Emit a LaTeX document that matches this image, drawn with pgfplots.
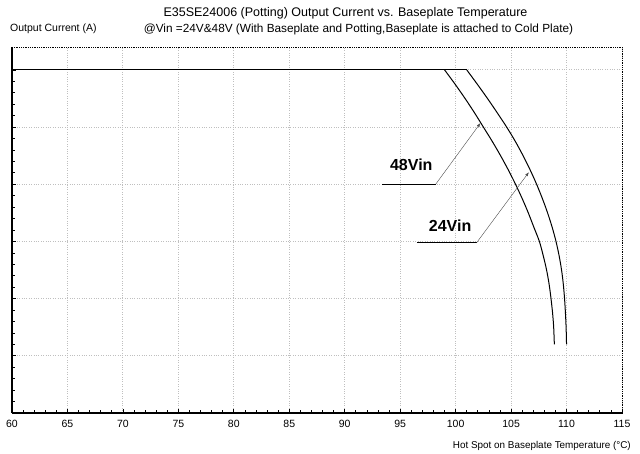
\documentclass[border=0pt]{standalone}
\usepackage{pgfplots}
\pgfplotsset{compat=1.18}
\usepackage{fontspec}
\setmainfont{Liberation Sans}
\usetikzlibrary{arrows.meta}
\begin{document}
\begin{tikzpicture}
\path[use as bounding box] (-12pt,-41pt) rectangle (628pt,413pt);
\begin{axis}[at={(0pt,0pt)}, anchor=south west, scale only axis,
  width=610pt, height=366pt,
  xmin=60, xmax=115, ymin=0, ymax=6.4,
  xtick={60,65,...,115}, ytick={0,1,...,6},
  minor x tick num=4, minor y tick num=4,
  yticklabels={},
  grid=major, major grid style={gray!50, dotted, line width=0.9pt},
  axis x line*=bottom, axis y line*=left,
  axis line style={line width=1.2pt, -},
  tick align=inside, major tick length=4pt, minor tick length=2.5pt,
  tick style={black, line width=0.7pt},
  xticklabel style={font=\fontsize{10.5}{12}\selectfont, yshift=-4pt},
  /pgf/number format/assume math mode=true,
  clip=false]
\draw[black, densely dotted, line width=0.8pt] (rel axis cs:0,1) -- (rel axis cs:1,1) -- (rel axis cs:1,0);
% 48 Vin
\addplot[black, line width=1pt] coordinates {(60,6) (99,6)};
\addplot[black, line width=1pt, smooth] coordinates {(99,6) (99.95,5.75) (100.85,5.5) (101.7,5.25) (102.5,5) (103.3,4.75) (104.05,4.5) (104.75,4.25) (105.4,4) (106.0,3.75) (106.55,3.5) (107.05,3.25) (107.55,3) (107.9,2.75) (108.2,2.5) (108.43,2.25) (108.6,2) (108.74,1.75) (108.84,1.5) (108.9,1.2)};
% 24 Vin
\addplot[black, line width=1pt] coordinates {(60,6) (101,6)};
\addplot[black, line width=1pt, smooth] coordinates {(101,6) (101.95,5.75) (102.87,5.5) (103.75,5.25) (104.6,5) (105.38,4.75) (106.08,4.5) (106.72,4.25) (107.3,4) (107.82,3.75) (108.29,3.5) (108.7,3.25) (109.05,3) (109.33,2.75) (109.55,2.5) (109.71,2.25) (109.82,2) (109.9,1.75) (109.96,1.5) (110,1.2)};
% annotations
\draw[line width=0.9pt] (axis cs:93.4,4) -- (axis cs:98.2,4);
\draw[gray!60!black, line width=0.4pt, -{Latex[length=4pt,width=3pt]}] (axis cs:98.2,4) -- (axis cs:102.24,5.07);
\node[font=\bfseries\fontsize{16}{18}\selectfont] at (axis cs:96.0,4.34) {48Vin};
\draw[line width=0.9pt] (axis cs:96.5,2.98) -- (axis cs:101.9,2.98);
\draw[gray!60!black, line width=0.4pt, -{Latex[length=4pt,width=3pt]}] (axis cs:101.9,2.98) -- (axis cs:106.6,4.21);
\node[font=\bfseries\fontsize{16}{18}\selectfont] at (axis cs:99.5,3.28) {24Vin};
\end{axis}
\node[font=\fontsize{12.5}{14}\selectfont] at (333.5pt,400pt) {E35SE24006 (Potting) Output Current vs. Baseplate Temperature};
\node[font=\fontsize{10.5}{12}\selectfont, anchor=west, inner sep=0pt] at (-2pt,384pt) {Output Current (A)};
\node[font=\fontsize{11.8}{13}\selectfont] at (346.5pt,384pt) {@Vin =24V\&48V (With Baseplate and Potting,Baseplate is attached to Cold Plate)};
\node[font=\fontsize{9.9}{11}\selectfont, anchor=east, inner sep=0pt] at (619pt,-33pt) {Hot Spot on Baseplate Temperature (°C)};
\end{tikzpicture}
\end{document}
